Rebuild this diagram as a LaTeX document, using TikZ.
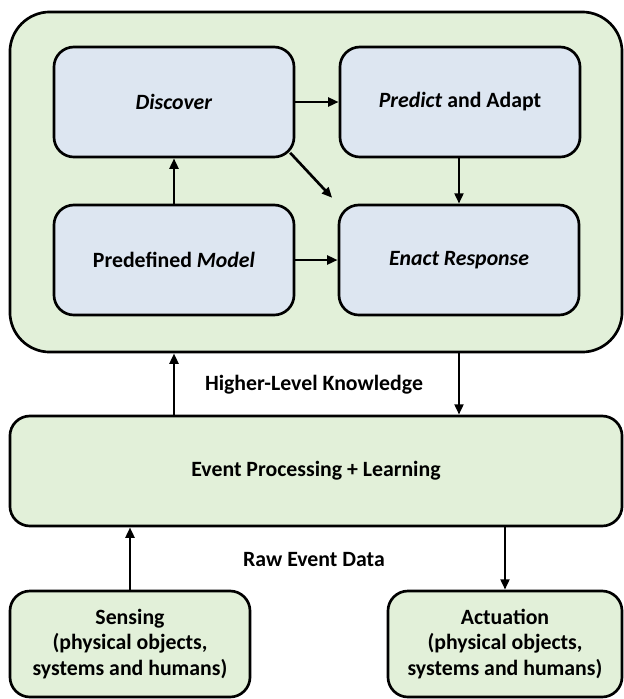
\documentclass[tikz,border=0pt]{standalone}
\usepackage{fontspec}
\setmainfont{Carlito}
\usetikzlibrary{arrows.meta}
\definecolor{lgreen}{HTML}{E2F0D9}
\definecolor{lblue}{HTML}{DDE6F1}
\tikzstyle{qtxt}=[font=\bfseries\fontsize{15.5}{18}\selectfont, align=center]
\tikzstyle{qblu}=[rectangle, draw, line width=1.9pt, rounded corners=0.5cm, fill=lblue, qtxt, minimum width=6cm, minimum height=2.75cm]
\tikzstyle{qgrn}=[rectangle, draw, line width=1.9pt, rounded corners=0.5cm, fill=lgreen, qtxt]
\tikzstyle{conn}=[line width=1.9pt, -{Triangle[length=0.26cm,width=0.22cm]}]

\begin{document}
\begin{tikzpicture}[x=0.025cm, y=-0.025cm]
  \useasboundingbox (0,0) rectangle (624,699);
  % outer block
  \node[qgrn, rounded corners=1cm, minimum width=15.3cm, minimum height=8.5cm] (core) at (316,182) {};
  \node[qblu] (disc) at (174,102) {\textit{Discover}};
  \node[qblu] (pred) at (460,102) {\textit{Predict} and Adapt};
  \node[qblu] (model) at (174,260) {Predefined \textit{Model}};
  \node[qblu] (enact) at (459,260) {\textit{Enact Response}};

  \node[qgrn, minimum width=15.3cm, minimum height=2.75cm] (event) at (316,471) {Event Processing + Learning};
  \node[qgrn, minimum width=6cm, minimum height=2.65cm] (sense) at (130,644) {Sensing\\(physical objects,\\systems and humans)};
  \node[qgrn, minimum width=5.85cm, minimum height=2.65cm] (act) at (505,644) {Actuation\\(physical objects,\\systems and humans)};

  \node[qtxt] (hlk) at (314,385) {Higher-Level Knowledge};
  \node[qtxt] (raw) at (314,560) {Raw Event Data};

  \draw[conn] (disc.east) -- (pred.west);
  \draw[conn] (model.north) -- (disc.south);
  \draw[conn] (pred.south -| enact) -- (enact.north);
  \draw[conn] (model.east) -- (enact.west);
  \draw[conn, shorten <=-0.19cm, shorten >=0.2cm] (disc.south east) -- (enact.north west);
  %\draw[conn] (disc) -- (enact);
  \draw[conn] (event.north -| model) -- (core.south -| model);
  \draw[conn] (core.south -| enact) -- (event.north -| enact);
  \draw[conn] (sense.north) -- (event.south -| sense);
  \draw[conn] (event.south -| act) -- (act.north);
\end{tikzpicture}
\end{document}
